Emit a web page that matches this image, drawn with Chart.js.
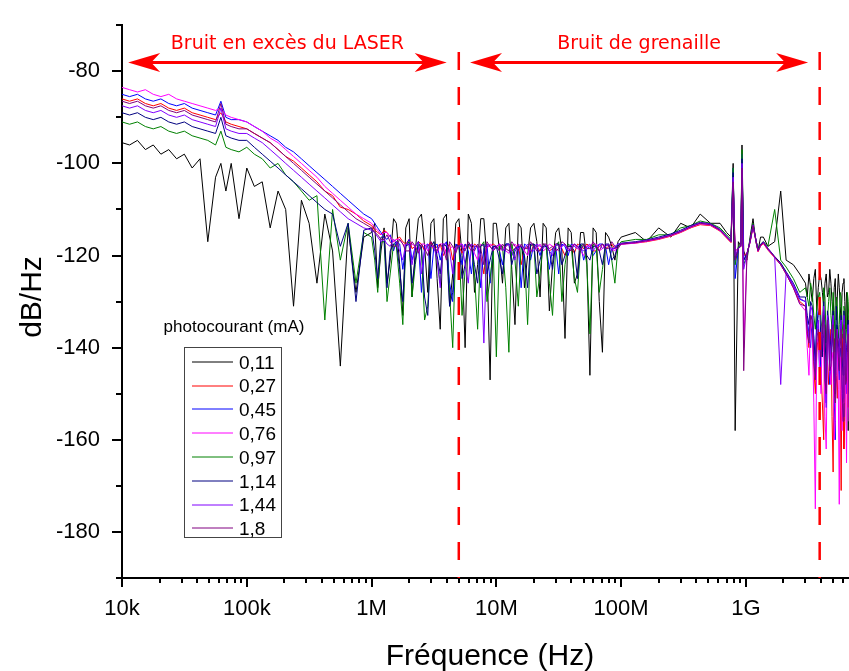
<!DOCTYPE html>
<html>
<head>
<meta charset="utf-8">
<script src="https://cdn.jsdelivr.net/npm/chart.js@4.4.1/dist/chart.umd.min.js"></script>
<style>
  html, body { margin: 0; padding: 0; background: #fff; }
  #graph { display: block; }
</style>
</head>
<body>
<canvas id="graph" width="849" height="671"></canvas>
<script>
// frequency grid (Hz), shared by every curve
const frequences = [
  1e4, 1.15e4, 1.33e4, 1.54e4, 1.78e4, 2.05e4, 2.37e4, 2.74e4, 3.16e4, 3.65e4, 4.22e4, 4.87e4, 5.62e4, 6.2e4, 6.8e4, 7.5e4, 8.66e4,
  1e5, 1.15e5, 1.33e5, 1.54e5, 1.78e5, 2.05e5, 2.37e5, 2.74e5, 3.16e5, 3.65e5, 4.22e5, 4.87e5, 5.62e5, 6.49e5, 7.5e5, 8.66e5,
  1e6, 1.06e6, 1.12e6, 1.19e6, 1.26e6, 1.33e6, 1.41e6, 1.5e6, 1.58e6, 1.68e6, 1.78e6, 1.88e6, 2e6, 2.11e6, 2.24e6, 2.37e6, 2.51e6, 2.66e6, 2.82e6, 2.99e6,
  3.16e6, 3.35e6, 3.55e6, 3.76e6, 3.98e6, 4.22e6, 4.47e6, 4.73e6, 5.01e6, 5.31e6, 5.62e6, 5.96e6, 6.31e6, 6.68e6, 7.08e6, 7.5e6, 7.94e6, 8.41e6, 8.91e6, 9.44e6,
  1e7, 1.06e7, 1.12e7, 1.19e7, 1.26e7, 1.33e7, 1.41e7, 1.5e7, 1.58e7, 1.68e7, 1.78e7, 1.88e7, 2e7, 2.11e7, 2.24e7, 2.37e7, 2.51e7, 2.66e7, 2.82e7, 2.99e7,
  3.16e7, 3.35e7, 3.55e7, 3.76e7, 3.98e7, 4.22e7, 4.47e7, 4.73e7, 5.01e7, 5.31e7, 5.62e7, 5.96e7, 6.31e7, 6.68e7, 7.08e7, 7.5e7, 7.94e7, 8.41e7, 8.91e7, 9.44e7,
  1e8, 1.3e8, 1.6e8, 2e8, 2.5e8, 3e8, 3.6e8, 4.3e8, 5.2e8, 6.2e8, 7e8, 7.6e8, 7.9e8, 8.2e8, 8.7e8, 9.1e8, 9.3e8, 9.6e8, 1.02e9, 1.08e9, 1.14e9, 1.2e9, 1.25e9, 1.31e9, 1.38e9, 1.5e9, 1.7e9, 1.9e9, 2.1e9, 2.4e9, 2.7e9,
  3e9, 3.1e9, 3.2e9, 3.3e9, 3.4e9, 3.5e9, 3.6e9, 3.7e9, 3.8e9, 3.9e9, 4e9, 4.1e9, 4.2e9, 4.3e9, 4.4e9, 4.5e9, 4.6e9, 4.7e9, 4.8e9, 4.9e9,
  5e9, 5.1e9, 5.2e9, 5.3e9, 5.4e9, 5.5e9, 5.6e9, 5.7e9, 5.8e9, 5.9e9, 6e9, 6.1e9, 6.2e9, 6.3e9, 6.4e9, 6.5e9, 6.6e9, 6.7e9, 6.8e9
];

// noise level (dB/Hz) for each photocurrent
const bruit011 = [
  -95.5, -96, -95, -97, -96, -98, -97, -99, -98, -101, -99, -117, -103, -100, -106, -100, -112, -101, -105, -104, -114, -106, -110, -131, -108, -113, -126, -111, -119, -144, -114, -128, -116,
  -115, -113, -127, -119, -114, -126, -121, -112, -113, -122, -133, -114, -112, -129, -119, -112, -111, -118, -128, -113,
  -112, -125, -136, -112, -111, -131, -124, -113, -112, -120, -140, -111, -113, -128, -122, -112, -112, -121, -147, -113,
  -113, -119, -126, -114, -113, -123, -135, -113, -114, -127, -120, -114, -113, -117, -129, -113, -114, -132, -122, -115,
  -114, -119, -138, -114, -115, -126, -124, -115, -115, -121, -146, -114, -115, -130, -141, -115, -116, -118, -121, -117,
  -116, -115, -117, -114, -116, -113, -114, -111, -113, -113, -115, -116, -100, -158, -117, -118, -96, -119, -121, -116, -112, -117, -119, -116, -116, -118, -117, -106, -121, -122, -124,
  -126, -129, -124, -127, -130, -125, -123, -132, -127, -124, -125, -128, -131, -126, -124, -129, -128, -123, -126, -130,
  -133, -127, -125, -134, -129, -124, -127, -131, -135, -128, -126, -125, -130, -136, -128, -129, -158, -133, -127
];
const bruit027 = [
  -86, -86.5, -86, -87, -87.5, -87, -88, -88.5, -88, -89, -89.5, -90, -90.5, -89, -91, -91.5, -92, -92.5, -93.5, -94.5, -95.5, -97, -98.5, -99.5, -101, -102.5, -104, -106, -107, -109.5, -110, -111, -112.5,
  -113.5, -114.5, -115, -115.5, -114.5, -115, -116, -117, -116.5, -116, -117, -117.5, -116.5, -118.5, -118, -117, -117.5, -119, -118, -117,
  -119, -118, -117.5, -120, -118.5, -117.5, -121, -118.5, -118, -119.5, -117.5, -118, -119, -117.5, -118, -120, -124, -118, -118, -117.5,
  -118, -117.5, -119, -118, -117.5, -119, -118.5, -117.5, -122, -118.5, -118, -119.5, -117.5, -118, -119, -117.5, -118, -119, -118.5, -117.5,
  -117.5, -118.5, -120, -118, -118, -119.5, -117.5, -118, -118.5, -117.5, -118, -119, -119, -118, -117.5, -118.5, -118, -117.5, -118.5, -118,
  -117.5, -117.3, -117, -116.5, -115.8, -115, -114, -113.3, -113.5, -114.7, -116.2, -117.2, -103, -119, -118.5, -118, -100, -120, -119.5, -117.2, -113.8, -116.7, -119.2, -118, -117.4, -118.8, -120.5, -122, -124, -127, -130,
  -131, -136, -140, -133, -134, -144, -150, -141, -137, -139, -145, -152, -160, -135, -139, -143, -148, -141, -136, -155,
  -167, -138, -142, -146, -151, -140, -138, -149, -171, -137, -144, -162, -156, -143, -140, -147, -153, -141, -146
];
const bruit045 = [
  -85, -85.5, -85, -86, -86.5, -86, -87, -87.5, -87, -88, -88.5, -89, -89.5, -86.5, -90, -90.5, -90.5, -91, -92, -93, -94, -95, -96.5, -97.5, -99, -100.5, -102, -103.5, -105, -106.5, -108, -109.5, -111,
  -112, -113, -114, -115, -116, -116.5, -115.5, -119, -117, -117.5, -123, -118, -116.5, -121, -118, -117, -128, -118, -117.5, -125,
  -118, -117.5, -121, -118, -117, -126, -130, -117.5, -118, -122, -117.5, -119, -124, -118, -118, -127, -118.5, -117.5, -126, -118,
  -118, -119, -122, -117.5, -117.5, -120, -118.5, -118, -127, -117.5, -118, -121, -117.5, -118, -120, -117.5, -118, -123, -118.5, -118,
  -124, -117.5, -118, -120, -117.5, -118, -118.5, -117.5, -121, -118.5, -118, -120, -119, -117.5, -117.5, -118, -122, -118.5, -118.5, -117.5,
  -117.5, -117.2, -116.8, -116.3, -115.6, -114.8, -113.8, -113, -113.3, -114.5, -116, -117, -101, -125, -118.5, -118, -98, -121, -119.5, -117, -113.5, -116.5, -119, -117.8, -117.2, -118.6, -120.3, -121.8, -123.8, -126.5, -129.5,
  -130, -134, -137, -140, -133, -138, -145, -132, -135, -147, -141, -136, -138, -144, -152, -139, -136, -148, -144, -137,
  -140, -151, -160, -135, -139, -143, -147, -140, -142, -149, -155, -136, -138, -145, -150, -139, -143, -152, -162
];
const bruit076 = [
  -83.5, -84, -84.5, -84, -85, -85.5, -85, -86, -86.5, -87, -87.5, -88, -88.5, -88, -89.5, -90, -90.5, -91, -92, -93, -94.5, -95.5, -97, -98.5, -100, -101.5, -103, -105, -106.5, -108, -109.5, -111, -112,
  -113, -114, -114.5, -115.5, -115, -115, -116, -117, -116.5, -116.5, -117.5, -118, -117, -117.5, -118, -119, -117.5, -117.5, -119, -118,
  -118, -119.5, -117.5, -117.5, -120, -118.5, -118, -119, -117.5, -117.5, -118.5, -118, -118, -119.5, -121, -117.5, -118, -118.5, -117.5, -118,
  -118.5, -117.5, -118, -119, -119.5, -118, -117.5, -118.5, -118, -119, -120, -117.5, -118, -118.5, -117.5, -119, -118.5, -117.5, -118, -118.5,
  -119, -118, -117.5, -119, -118, -117.5, -118.5, -119, -120, -118, -118, -117.5, -117.5, -119, -118.5, -117.5, -118, -118.5, -119, -118,
  -117.6, -117.3, -116.9, -116.4, -115.7, -114.9, -113.9, -113.1, -113.4, -114.6, -116.1, -117.1, -104, -119, -118.5, -118, -102, -140, -119.5, -117.1, -113.7, -116.6, -119.1, -117.9, -117.3, -118.7, -120.4, -121.9, -124, -127, -130.5,
  -132, -140, -146, -134, -136, -152, -175, -138, -139, -144, -150, -135, -141, -155, -162, -139, -137, -145, -148, -141,
  -143, -160, -156, -138, -140, -149, -174, -142, -145, -158, -152, -137, -139, -146, -165, -141, -147, -156, -150
];
const bruit097 = [
  -91, -91.5, -91, -92, -92.5, -92, -93, -93.5, -93, -94, -94.5, -95, -96, -93, -96.5, -97, -97.5, -96.5, -98, -99, -101, -100, -102.5, -104, -106, -108, -107, -134, -110, -121, -113, -126, -115,
  -116, -121, -128, -117, -117, -130, -124, -117.5, -118, -126, -135, -118, -117, -129, -122, -117, -119, -134, -131, -118,
  -117, -121, -126, -117.5, -118, -128, -140, -118, -117.5, -133, -123, -117.5, -118, -124, -136, -118, -117, -130, -125, -119,
  -142, -118, -118, -127, -141, -117.5, -121, -131, -118, -120, -135, -118, -117.5, -129, -124, -117.5, -118, -126, -133, -118,
  -117, -130, -122, -117.5, -118, -125, -128, -118, -117.5, -122, -137, -117.5, -118, -128, -123, -118, -117.5, -121, -126, -118,
  -117, -116.5, -116.5, -115.5, -115.5, -114, -113.5, -112.5, -113, -114, -115.5, -116.5, -101, -122, -118, -117.5, -97, -122, -120, -116.5, -113, -116.5, -118.5, -117.5, -117, -118, -110, -121, -122.5, -125, -128,
  -127, -129, -131, -126, -128, -133, -136, -131, -129, -128, -134, -137, -127, -129, -139, -134, -130, -127, -133, -136,
  -128, -132, -141, -129, -131, -138, -135, -128, -129, -134, -138, -131, -132, -139, -136, -128, -130, -135, -140
];
const bruit114 = [
  -89, -89.5, -89, -90, -90.5, -90, -91, -91.5, -91, -92, -92.5, -93, -93.5, -90, -94, -94.5, -95, -95, -96.5, -98, -99.5, -101, -102.5, -104, -105.5, -107, -108.5, -110, -111, -118, -113, -130, -114.5,
  -114, -119, -125, -116, -116, -127, -119, -117.5, -117, -123, -130, -118, -117.5, -126, -121, -117.5, -118, -129, -133, -118,
  -117, -120, -124, -117.5, -118, -131, -128, -118, -117.5, -125, -122, -117.5, -118, -122, -126, -118, -117.5, -124, -121, -118,
  -118, -121, -124, -117.5, -117.5, -122, -119, -118, -118, -120, -127, -117.5, -117.5, -124, -121, -118, -118, -119, -123, -117.5,
  -117.5, -122, -120, -118, -118, -119, -125, -117.5, -117.5, -120, -121, -118, -118, -119, -122, -117.5, -117.5, -121, -120, -118,
  -117.3, -117, -116.6, -116, -115.3, -114.5, -113.5, -112.8, -113.1, -114.3, -115.8, -116.8, -102, -121, -118.3, -117.8, -99, -121, -119.8, -116.8, -113.3, -116.4, -118.8, -117.6, -117, -118.4, -120.2, -121.6, -123.5, -126, -129,
  -129, -133, -135, -130, -131, -138, -143, -135, -133, -131, -139, -142, -130, -136, -147, -132, -134, -141, -138, -135,
  -132, -144, -150, -131, -135, -139, -141, -137, -133, -142, -146, -132, -136, -145, -140, -138, -134, -143, -152
];
const bruit144 = [
  -87.5, -88, -87.5, -88.5, -89, -88.5, -89.5, -90, -89.5, -90.5, -91, -91.5, -92, -88, -92.5, -93, -93.5, -93.5, -94.5, -95.5, -97, -98.5, -100, -101.5, -103, -104.5, -106, -107.5, -109, -110.5, -112, -113, -114,
  -114.5, -115, -116, -117, -116.5, -117.5, -118, -116.5, -117, -119, -121, -117.5, -117.5, -122, -118, -117, -124, -119, -117.5, -118,
  -118, -121, -127, -117.5, -117.5, -119, -124, -118, -118, -117.5, -122, -126, -117.5, -118, -118, -120, -139, -117.5, -118, -119,
  -118, -117.5, -119, -118, -117.5, -119, -121, -117.5, -118, -118.5, -117.5, -119, -119, -117.5, -118, -118.5, -117.5, -119, -120, -117.5,
  -118, -118, -117.5, -119, -118.5, -117.5, -118, -118.5, -119, -118, -117.5, -119, -118, -117.5, -118.5, -118, -117.5, -119, -118, -117.5,
  -117.4, -117.1, -116.7, -116.2, -115.5, -114.7, -113.7, -112.9, -113.2, -114.4, -115.9, -116.9, -103, -120, -118.4, -117.9, -100, -123, -119.6, -116.9, -113.4, -116.5, -118.9, -117.7, -117.1, -118.5, -120.3, -148, -123.7, -126.3, -129.3,
  -130, -135, -138, -131, -132, -141, -146, -137, -134, -139, -141, -134, -131, -145, -153, -133, -135, -143, -140, -136,
  -133, -147, -149, -138, -136, -141, -143, -135, -134, -148, -151, -133, -137, -146, -142, -139, -135, -150, -155
];
const bruit18 = [
  -86.5, -87, -86.5, -87.5, -88, -87.5, -88.5, -89, -88.5, -89.5, -90, -90.5, -91, -87, -91.5, -92, -92.5, -92.5, -93.5, -94.5, -95.5, -97, -98.5, -100, -101.5, -103, -104.5, -106, -107.5, -109, -110.5, -112, -113,
  -114, -115, -115.5, -116.5, -116.5, -115.5, -117, -118, -118, -116.5, -117.5, -119, -119, -117, -118, -119.5, -117.5, -118.5, -120, -117,
  -118, -119, -117.5, -118.5, -121, -117, -118, -119.5, -117.5, -118.5, -119, -117, -118, -119, -117.5, -118.5, -122, -117, -118, -119,
  -118, -119, -117.5, -118.5, -119, -117, -118, -119, -117.5, -118.5, -118.5, -117, -118, -119, -119, -117.5, -117.5, -118.5, -118, -119,
  -118.5, -117, -117.5, -118.5, -119, -117.5, -118, -119, -117.5, -118.5, -118.5, -117, -118, -119, -117.5, -118.5, -118.5, -117, -118, -118.5,
  -117.5, -117.2, -116.8, -116.3, -115.6, -114.8, -113.8, -113, -113.3, -114.5, -116, -117, -104, -121, -118.5, -118, -101, -145, -119.5, -117, -113.5, -116.5, -119, -117.8, -117.2, -118.6, -120.3, -122, -124, -127, -130.5,
  -131, -137, -139, -133, -134, -143, -147, -138, -136, -140, -142, -135, -133, -147, -150, -134, -137, -145, -144, -139,
  -135, -149, -152, -136, -138, -142, -145, -140, -136, -150, -156, -135, -139, -148, -147, -141, -137, -153, -158
];

const series = [bruit011, bruit027, bruit045, bruit076, bruit097, bruit114, bruit144, bruit18];
const photocourants = ['0,11', '0,27', '0,45', '0,76', '0,97', '1,14', '1,44', '1,8'];
const couleurs = ['#000000', '#ff0000', '#0000ff', '#ff00ff', '#008000', '#000080', '#8000ff', '#800080'];

const graduationsX = [1e4, 1e5, 1e6, 1e7, 1e8, 1e9];
const etiquettesX = ['10k', '100k', '1M', '10M', '100M', '1G'];
const graduationsY = [-180, -160, -140, -120, -100, -80];

// region separators and arrows
const limites = [5e6, 3.9e9];
const hautLimite = -75.8;
const zones = [
  { de: 1.12e4, a: 4.0e6, texte: 'Bruit en excès du LASER' },
  { de: 6.15e6, a: 3.15e9, texte: 'Bruit de grenaille' }
];

series.forEach((s, i) => {
  if (s.length !== frequences.length) throw new Error('serie ' + photocourants[i] + ': ' + s.length + ' / ' + frequences.length);
});

const datasets = series.map((vals, i) => ({
  label: photocourants[i],
  data: frequences.map((f, k) => ({ x: f, y: vals[k] })),
  borderColor: couleurs[i],
  borderWidth: 1,
  borderJoinStyle: 'round',
  pointRadius: 0,
  order: 20 - i
}));
limites.forEach(f => {
  datasets.push({
    data: [{ x: f, y: hautLimite }, { x: f, y: -190 }],
    borderColor: '#ff0000',
    borderWidth: 2.5,
    borderDash: [18, 17],
    pointRadius: 0,
    order: 0
  });
});

function pointe(ctx, xt, yt, dir) {
  ctx.beginPath();
  ctx.moveTo(xt, yt);
  ctx.lineTo(xt - dir * 32, yt - 9.5);
  ctx.lineTo(xt - dir * 23, yt);
  ctx.lineTo(xt - dir * 32, yt + 9.5);
  ctx.closePath();
  ctx.fill();
}

const habillage = {
  id: 'habillage',
  afterDraw(chart) {
    const { ctx, chartArea: zone } = chart;
    const x = chart.scales.x, y = chart.scales.y;
    ctx.save();

    // tick marks
    ctx.strokeStyle = '#000';
    ctx.lineWidth = 2;
    ctx.beginPath();
    for (let d = 4; d <= 9; d++) {
      for (let m = 1; m <= 9; m++) {
        const f = m * Math.pow(10, d);
        if (f > x.max) break;
        const px = Math.round(x.getPixelForValue(f));
        ctx.moveTo(px, zone.bottom);
        ctx.lineTo(px, zone.bottom + (m === 1 ? 9 : 5));
      }
    }
    for (let v = -190; v <= -70; v += 10) {
      const py = Math.round(y.getPixelForValue(v));
      ctx.moveTo(zone.left, py);
      ctx.lineTo(zone.left - (v % 20 === 0 ? 10 : 6), py);
    }
    ctx.stroke();

    // axis titles
    ctx.fillStyle = '#000';
    ctx.font = '30px "Liberation Sans", Arial, sans-serif';
    ctx.textAlign = 'center';
    ctx.textBaseline = 'alphabetic';
    ctx.fillText('Fréquence (Hz)', 490, 665);
    ctx.save();
    ctx.translate(41, 297);
    ctx.rotate(-Math.PI / 2);
    ctx.fillText('dB/Hz', 0, 0);
    ctx.restore();

    // region arrows
    ctx.fillStyle = '#ff0000';
    ctx.strokeStyle = '#ff0000';
    ctx.lineWidth = 3;
    const ya = 62.5;
    zones.forEach(z => {
      const x1 = x.getPixelForValue(z.de), x2 = x.getPixelForValue(z.a);
      ctx.beginPath();
      ctx.moveTo(x1 + 20, ya);
      ctx.lineTo(x2 - 20, ya);
      ctx.stroke();
      pointe(ctx, x1, ya, -1);
      pointe(ctx, x2, ya, 1);
      ctx.font = '19px "DejaVu Sans", sans-serif';
      ctx.fillText(z.texte, (x1 + x2) / 2, 49);
    });

    // legend
    ctx.fillStyle = '#000';
    ctx.font = '17px "Liberation Sans", Arial, sans-serif';
    ctx.fillText('photocourant (mA)', 234, 332);
    ctx.fillStyle = '#fff';
    ctx.fillRect(184.5, 347.5, 97, 190);
    ctx.strokeStyle = '#444';
    ctx.lineWidth = 1;
    ctx.strokeRect(184.5, 347.5, 97, 190);
    ctx.font = '19px "Liberation Sans", Arial, sans-serif';
    ctx.textAlign = 'left';
    photocourants.forEach((p, i) => {
      const yr = 361.7 + i * 23.8;
      ctx.strokeStyle = couleurs[i];
      ctx.beginPath();
      ctx.moveTo(192, Math.round(yr));
      ctx.lineTo(233, Math.round(yr));
      ctx.stroke();
      ctx.fillStyle = '#000';
      ctx.fillText(p, 239, yr + 6.8);
    });
    ctx.restore();
  }
};

new Chart(document.getElementById('graph').getContext('2d'), {
  type: 'line',
  data: { datasets },
  options: {
    responsive: false,
    animation: false,
    layout: { padding: { top: 12, left: 0, right: 0, bottom: 0 } },
    plugins: { legend: { display: false }, tooltip: { enabled: false } },
    scales: {
      x: {
        type: 'logarithmic',
        min: 1e4,
        max: 6.7e9,
        afterBuildTicks: s => { s.ticks = graduationsX.map(v => ({ value: v })); },
        afterFit: s => { s.height = 93; },
        grid: { drawOnChartArea: false, drawTicks: true, tickLength: 8, color: 'rgba(0,0,0,0)' },
        border: { display: true, color: '#000', width: 2 },
        ticks: {
          autoSkip: false,
          maxRotation: 0,
          padding: 10,
          color: '#000',
          font: { family: '"Liberation Sans", Arial, sans-serif', size: 22 },
          callback: (v, i) => etiquettesX[i]
        }
      },
      y: {
        type: 'linear',
        min: -190,
        max: -70,
        afterBuildTicks: s => { s.ticks = graduationsY.map(v => ({ value: v })); },
        afterFit: s => { s.width = 122; },
        grid: { drawOnChartArea: false, drawTicks: true, tickLength: 10, color: 'rgba(0,0,0,0)' },
        border: { display: true, color: '#000', width: 2 },
        ticks: {
          padding: 12,
          color: '#000',
          font: { family: '"Liberation Sans", Arial, sans-serif', size: 22 }
        }
      }
    }
  },
  plugins: [habillage]
});
</script>
</body>
</html>
